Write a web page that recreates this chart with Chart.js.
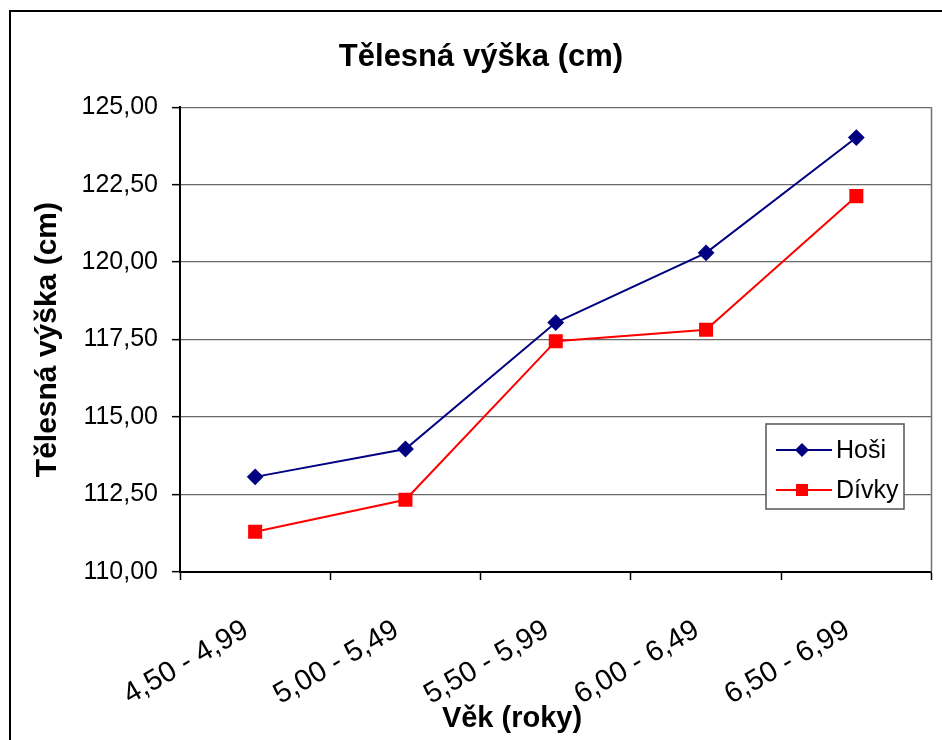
<!DOCTYPE html>
<html>
<head>
<meta charset="utf-8">
<script src="https://cdn.jsdelivr.net/npm/chart.js@4"></script>
<style>
  html, body { margin: 0; padding: 0; background: #fff; }
  #wrap { width: 942px; height: 740px; }
</style>
</head>
<body>
<div id="wrap"><canvas id="heightChart" width="942" height="740"></canvas></div>
<script>
// ===== DATA =====
const categories = ["4,50 - 4,99", "5,00 - 5,49", "5,50 - 5,99", "6,00 - 6,49", "6,50 - 6,99"];
const hosi = [113.07, 113.97, 118.05, 120.30, 124.02];
const divky = [111.30, 112.33, 117.45, 117.82, 122.13];
const seriesNames = ["Hoši", "Dívky"];
const yTicks = [110, 112.5, 115, 117.5, 120, 122.5, 125];

const FONT = "'Liberation Sans', Arial, sans-serif";

// outer frame, right border of plot area, x-axis title and legend box
const extras = {
    id: "extras",
    beforeDraw(chart) {
        const ctx = chart.ctx;
        ctx.save();
        ctx.fillStyle = "#fff";
        ctx.fillRect(0, 0, chart.width, chart.height);
        ctx.strokeStyle = "#000";
        ctx.lineWidth = 2;
        ctx.strokeRect(10, 11, 1000, 1000);
        ctx.restore();
    },
    beforeDatasetsDraw(chart) {
        const ctx = chart.ctx;
        const a = chart.chartArea;
        ctx.save();
        ctx.strokeStyle = "#707070";
        ctx.lineWidth = 1.5;
        ctx.beginPath();
        ctx.moveTo(a.right, a.top);
        ctx.lineTo(a.right, a.bottom);
        ctx.stroke();
        ctx.restore();
    },
    afterDraw(chart) {
        const ctx = chart.ctx;
        ctx.save();
        // x axis title
        ctx.fillStyle = "#000";
        ctx.font = "bold 29px " + FONT;
        ctx.textAlign = "center";
        ctx.textBaseline = "middle";
        ctx.fillText("Věk (roky)", 512, 719);

        // legend
        const bx = 766, by = 424, bw = 138, bh = 85;
        ctx.fillStyle = "#fff";
        ctx.fillRect(bx, by, bw, bh);
        ctx.strokeStyle = "#555";
        ctx.lineWidth = 1.5;
        ctx.strokeRect(bx, by, bw, bh);
        ctx.font = "25px " + FONT;
        ctx.textAlign = "left";
        chart.data.datasets.forEach((ds, i) => {
            const y = by + 26 + i * 40;
            ctx.strokeStyle = ds.borderColor;
            ctx.lineWidth = 2;
            ctx.beginPath();
            ctx.moveTo(bx + 10, y);
            ctx.lineTo(bx + 66, y);
            ctx.stroke();
            ctx.fillStyle = ds.backgroundColor;
            if (ds.pointStyle === "rectRot") {
                ctx.beginPath();
                ctx.moveTo(bx + 36, y - 7);
                ctx.lineTo(bx + 43, y);
                ctx.lineTo(bx + 36, y + 7);
                ctx.lineTo(bx + 29, y);
                ctx.closePath();
                ctx.fill();
            } else {
                ctx.fillRect(bx + 30, y - 6, 12, 12);
            }
            ctx.fillStyle = "#000";
            ctx.fillText(ds.label, bx + 70, y + 1);
        });
        ctx.restore();
    }
};

const ctx = document.getElementById("heightChart").getContext("2d");

new Chart(ctx, {
    type: "line",
    data: {
        labels: categories,
        datasets: [{
            label: seriesNames[0],
            data: hosi,
            borderColor: "#000080",
            backgroundColor: "#000080",
            borderWidth: 2,
            pointStyle: "rectRot",
            pointRadius: 7,
            pointHoverRadius: 7,
            tension: 0
        }, {
            label: seriesNames[1],
            data: divky,
            borderColor: "#ff0000",
            backgroundColor: "#ff0000",
            borderWidth: 2,
            pointStyle: "rect",
            pointRadius: 8.5,
            pointHoverRadius: 8.5,
            tension: 0
        }]
    },
    options: {
        responsive: false,
        animation: false,
        layout: { padding: { left: 27, right: 7, top: 0, bottom: 0 } },
        plugins: {
            legend: { display: false },
            tooltip: { enabled: false },
            title: {
                display: true,
                text: "Tělesná výška (cm)",
                color: "#000",
                font: { family: FONT, size: 31, weight: "bold" },
                padding: { top: 39, bottom: 31 }
            }
        },
        scales: {
            x: {
                offset: true,
                grid: { offset: true, drawOnChartArea: false, tickLength: 8, tickColor: "#000", tickWidth: 1.5 },
                border: { color: "#000", width: 2 },
                ticks: {
                    color: "#000",
                    font: { family: FONT, size: 29 },
                    minRotation: 30,
                    maxRotation: 30,
                    autoSkip: false,
                    padding: 33,
                    labelOffset: -9
                },
                afterFit(scale) { scale.height = 168; }
            },
            y: {
                min: 110,
                max: 125,
                afterBuildTicks(scale) { scale.ticks = yTicks.map(v => ({ value: v })); },
                grid: { color: "#6a6a6a", lineWidth: 1.3, tickLength: 8, tickColor: "#000", tickWidth: 1.5 },
                border: { color: "#000", width: 2 },
                ticks: {
                    color: "#000",
                    font: { family: FONT, size: 25 },
                    padding: 14,
                    callback: v => v.toFixed(2).replace(".", ",")
                },
                title: {
                    display: true,
                    text: "Tělesná výška (cm)",
                    color: "#000",
                    font: { family: FONT, size: 30, weight: "bold" },
                    padding: { top: 3, bottom: 0 }
                },
                afterFit(scale) { scale.width = 153; }
            }
        }
    },
    plugins: [extras]
});
</script>
</body>
</html>
